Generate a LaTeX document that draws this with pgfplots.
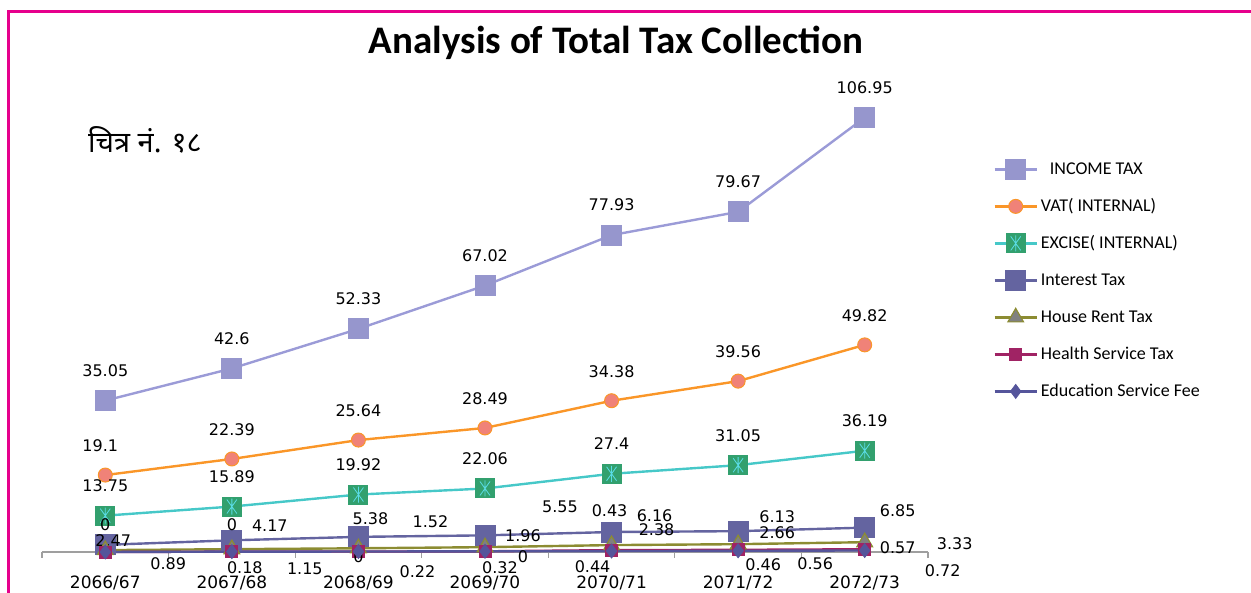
\documentclass[border=0pt]{standalone}
\usepackage{fontspec}
\setmainfont{DejaVu Sans}
\newfontfamily\carlito{Carlito}
\newfontfamily\devfont[Script=Devanagari]{Noto Sans}
\usepackage{pgfplots}
\usepackage{pgfplotstable}
\pgfplotsset{compat=1.18}

\definecolor{incline}{RGB}{155,155,215}
\definecolor{incfill}{RGB}{150,150,205}
\definecolor{vatline}{RGB}{250,150,40}
\definecolor{vatfill}{RGB}{240,130,120}
\definecolor{excline}{RGB}{70,200,200}
\definecolor{excfill}{RGB}{50,160,110}
\definecolor{excstar}{RGB}{90,220,230}
\definecolor{intcol}{RGB}{100,100,160}
\definecolor{houseline}{RGB}{140,140,50}
\definecolor{housefill}{RGB}{128,128,128}
\definecolor{healthcol}{RGB}{160,35,100}
\definecolor{educol}{RGB}{85,85,155}
\definecolor{framecol}{RGB}{230,0,140}

% green square with a cyan star, as in the excise series
\pgfdeclareplotmark{sqast}{%
  \pgfpathrectangle{\pgfqpoint{-\pgfplotmarksize}{-\pgfplotmarksize}}{\pgfqpoint{2\pgfplotmarksize}{2\pgfplotmarksize}}%
  \pgfusepathqfill
  \pgfsetlinewidth{0.4pt}%
  \pgfsetstrokecolor{excstar}%
  \pgfpathmoveto{\pgfqpoint{0pt}{-0.8\pgfplotmarksize}}\pgfpathlineto{\pgfqpoint{0pt}{0.8\pgfplotmarksize}}%
  \pgfpathmoveto{\pgfqpoint{-0.5\pgfplotmarksize}{-0.7\pgfplotmarksize}}\pgfpathlineto{\pgfqpoint{0.5\pgfplotmarksize}{0.7\pgfplotmarksize}}%
  \pgfpathmoveto{\pgfqpoint{-0.5\pgfplotmarksize}{0.7\pgfplotmarksize}}\pgfpathlineto{\pgfqpoint{0.5\pgfplotmarksize}{-0.7\pgfplotmarksize}}%
  \pgfusepathqstroke
}

% x y label dx dy   (label offsets in pt)
\pgfplotstableread{
x y lab dx dy
0 0 {} 0 0
1 0.18 0.18 6.5 -8
2 0.22 0.22 29.5 -10
3 0.32 0.32 7.5 -8
4 0.44 0.44 -9.5 -8
5 0.56 0.56 38.5 -6.5
6 0.72 0.72 39 -10
}\edu
\pgfplotstableread{
x y lab dx dy
0 0 0 0 13.5
1 0 0 0 13.5
2 0 0 0 -2.5
3 0 0 19 -2.5
4 0.43 0.43 -1 19.5
5 0.46 0.46 12.5 -7.5
6 0.57 0.57 16.5 1
}\health
\pgfplotstableread{
x y lab dx dy
0 0.89 0.89 31.5 -7
1 1.15 1.15 36.5 -10
2 1.52 1.52 36 13.5
3 1.96 1.96 19 5.5
4 2.38 2.38 22.5 7.5
5 2.66 2.66 19.5 6
6 3.33 3.33 45 -0.5
}\house
\pgfplotstableread{
x y lab dx dy
0 2.47 2.47 4 2
1 4.17 4.17 19 7.5
2 5.38 5.38 6 9
3 5.55 5.55 37.5 14.5
4 6.16 6.16 21.5 8
5 6.13 6.13 19.5 7
6 6.85 6.85 16.5 8.5
}\interest
\pgfplotstableread{
x y lab dx dy
0 13.75 13.75 0 15
1 15.89 15.89 0 15
2 19.92 19.92 0 15
3 22.06 22.06 0 15
4 27.4 27.4 0 15
5 31.05 31.05 0 15
6 36.19 36.19 0 15
}\excise
\pgfplotstableread{
x y lab dx dy
0 19.1 19.1 -2.5 14.5
1 22.39 22.39 0 14.5
2 25.64 25.64 0 14.5
3 28.49 28.49 0 14.5
4 34.38 34.38 0 14.5
5 39.56 39.56 0 14.5
6 49.82 49.82 0 14.5
}\vat
\pgfplotstableread{
x y lab dx dy
0 35.05 35.05 0 15
1 42.6 42.6 0 15
2 52.33 52.33 0 15
3 67.02 67.02 0 15
4 77.93 77.93 0 15
5 79.67 79.67 0 15
6 106.95 106.95 0 15
}\income

\begin{document}
\begin{tikzpicture}
\useasboundingbox (0pt,0pt) rectangle (625.5pt,296.5pt);
\draw[framecol, line width=1.5pt] (4pt,-2pt) -- (4pt,290.5pt) -- (627pt,290.5pt);
\begin{axis}[
    at={(21pt,20.5pt)}, anchor=south west,
    scale only axis,
    width=443pt, height=223.1pt,
    xmin=-0.5, xmax=6.5, ymin=0, ymax=210,
    axis x line=bottom, axis y line=none,
    x axis line style={-, draw=gray!75, line width=0.7pt},
    xtick={0,...,6},
    xticklabels={2066/67,2067/68,2068/69,2069/70,2070/71,2071/72,2072/73},
    major tick length=0pt,
    minor xtick={-0.5,0.5,...,6.5},
    minor tick length=3pt,
    tick align=outside,
    minor tick style={draw=gray!75, line width=0.6pt},
    xticklabel style={anchor=center, yshift=-15.5pt, font=\fontsize{8.5}{10}\selectfont},
    clip=false,
    stack plots=y,
    point meta=explicit symbolic,
    nodes near coords,
    visualization depends on={\thisrow{dx} \as \dx},
    visualization depends on={\thisrow{dy} \as \dy},
    nodes near coords style={anchor=center, xshift=\dx pt, yshift=\dy pt,
        font=\fontsize{8}{9}\selectfont, text=black, inner sep=0pt},
    legend image code/.code={\draw[mark repeat=2,mark phase=2,#1] plot coordinates {(0pt,0pt) (10.5pt,0pt) (21pt,0pt)};},
    reverse legend,
    legend cell align=left,
    legend style={draw=none, fill=none, at={(1.0735,0.892)}, anchor=north west,
        font=\carlito\fontsize{9}{11}\selectfont, row sep=3.5pt, column sep=1.5pt,
        inner sep=0pt, nodes={inner sep=0pt, text height=10pt, text depth=5pt}},
]
\addplot[educol, line width=1.2pt, mark=diamond*, mark size=3.5pt,
    mark options={fill=educol, draw=educol, line width=0.4pt}]
    table[x=x, y=y, meta=lab]{\edu};
\addplot[healthcol, line width=1.2pt, mark=square*, mark size=3pt,
    mark options={fill=healthcol, draw=healthcol, line width=0.4pt}]
    table[x=x, y=y, meta=lab]{\health};
\addplot[houseline, line width=1.2pt, mark=triangle*, mark size=4.5pt,
    mark options={fill=housefill, draw=houseline, line width=0.6pt}]
    table[x=x, y=y, meta=lab]{\house};
\addplot[intcol, line width=1.2pt, mark=square*, mark size=5pt,
    mark options={fill=intcol, draw=intcol, line width=0.4pt}]
    table[x=x, y=y, meta=lab]{\interest};
\addplot[excline, line width=1.2pt, mark=sqast, mark size=5pt,
    mark options={fill=excfill, draw=excfill}]
    table[x=x, y=y, meta=lab]{\excise};
\addplot[vatline, line width=1.2pt, mark=*, mark size=3.5pt,
    mark options={fill=vatfill, draw=vatline, line width=0.5pt}]
    table[x=x, y=y, meta=lab]{\vat};
\addplot[incline, line width=1.2pt, mark=square*, mark size=5pt,
    mark options={fill=incfill, draw=incfill, line width=0.4pt}]
    table[x=x, y=y, meta=lab]{\income};
\legend{Education Service Fee, Health Service Tax, House Rent Tax, Interest Tax,
    EXCISE( INTERNAL), VAT( INTERNAL), \hspace{4.5pt}INCOME TAX}
\end{axis}
\node[font=\carlito\bfseries\fontsize{19.5}{22}\selectfont] at (308pt,275pt) {Analysis of Total Tax Collection};
\node[font=\devfont\fontsize{14.5}{16}\selectfont] at (72.5pt,226.5pt) {चित्र नं. १८};
\end{tikzpicture}
\end{document}
